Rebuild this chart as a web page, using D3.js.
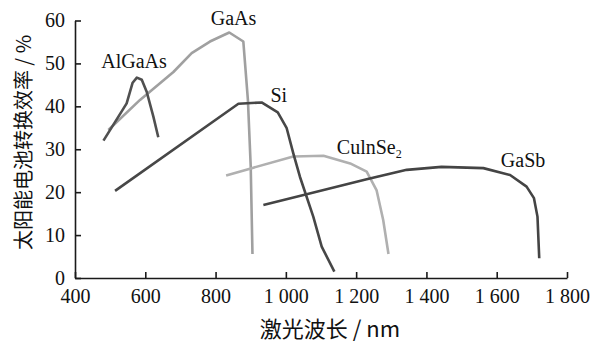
<!DOCTYPE html>
<html>
<head>
<meta charset="utf-8">
<script src="https://cdn.jsdelivr.net/npm/d3@7"></script>
<style>
  body { margin: 0; background: #fff; }
  text { font-family: "Liberation Serif", "Times New Roman", serif; fill: #111; }
  .cjk { font-family: "Noto Sans CJK SC", sans-serif; }
</style>
</head>
<body>
<div id="chart"></div>
<script>
// data: [wavelength nm, efficiency %]
var algaas = [[481,32],[547,40.7],[564,45.5],[576,46.7],[590,46.2],[604,43.4],[623,37.6],[637,32.8]];
var gaas = [[495,34.5],[585,41.5],[680,48],[732,52.4],[784,55.1],[839,57.2],[879,55.1],[892,41.5],[900,26],[905,5.6]];
var si = [[514,20.3],[865,40.6],[931,40.9],[977,38.6],[1002,35],[1021,29.1],[1040,23.6],[1078,14.3],[1102,7.3],[1138,1.5]];
var cuinse2 = [[830,23.9],[903,25.6],[1021,28.3],[1107,28.5],[1183,26.7],[1230,24.8],[1258,20.5],[1277,13.5],[1292,5.6]];
var gasb = [[936,17],[1059,19.5],[1230,23],[1344,25.2],[1443,25.9],[1562,25.6],[1638,24],[1685,21.3],[1706,18.6],[1716,14.3],[1721,4.6]];

var xTicks = [400, 600, 800, 1000, 1200, 1400, 1600, 1800];
var yTicks = [0, 10, 20, 30, 40, 50, 60];

// set the dimensions and margins of the graph
var margin = {top: 20.5, right: 23, bottom: 68, left: 75},
    width = 590 - margin.left - margin.right,
    height = 346 - margin.top - margin.bottom;

var svg = d3.select("#chart")
  .append("svg")
    .attr("width", width + margin.left + margin.right)
    .attr("height", height + margin.top + margin.bottom)
  .append("g")
    .attr("transform", "translate(" + margin.left + "," + margin.top + ")");

var xScale = d3.scaleLinear().domain([400, 1800]).range([0, width]);
var yScale = d3.scaleLinear().domain([0, 60]).range([height, 0]);

var line = d3.line()
    .x(d => xScale(d[0]))
    .y(d => yScale(d[1]));

var series = [
    {data: gaas, color: "#a0a0a0"},
    {data: cuinse2, color: "#b0b0b0"},
    {data: algaas, color: "#505050"},
    {data: si, color: "#474747"},
    {data: gasb, color: "#444444"}
];

svg.selectAll("path.curve")
    .data(series)
    .enter()
    .append("path")
    .attr("class", "curve")
    .attr("d", d => line(d.data))
    .style("fill", "none")
    .style("stroke", d => d.color)
    .style("stroke-width", 2.6)
    .style("stroke-linejoin", "round");

// axes
var fmt = d => d >= 1000 ? String(d).replace(/(\d)(\d{3})$/, "$1 $2") : String(d);

var xAxis = svg.append("g")
    .attr("transform", "translate(0," + height + ")")
    .call(d3.axisBottom(xScale).tickValues(xTicks).tickFormat(fmt).tickSizeInner(-6).tickSizeOuter(0));
xAxis.selectAll("text")
    .attr("y", 25)
    .attr("dy", 0)
    .style("font-size", "20px");

var yAxis = svg.append("g")
    .call(d3.axisLeft(yScale).tickValues(yTicks).tickSizeInner(-6).tickSizeOuter(0));
yAxis.selectAll("text")
    .attr("x", -10)
    .style("font-size", "20px");

svg.selectAll(".domain, .tick line")
    .style("stroke", "#1a1a1a")
    .style("stroke-width", 1.6);

// curve labels
var labels = [
    {t: "AlGaAs", x: 568, y: 48.9},
    {t: "GaAs", x: 851, y: 59},
    {t: "Si", x: 980, y: 41.1},
    {t: "GaSb", x: 1675, y: 25.9}
];
svg.selectAll("text.lab")
    .data(labels)
    .enter()
    .append("text")
    .attr("class", "lab")
    .attr("x", d => xScale(d.x))
    .attr("y", d => yScale(d.y))
    .attr("text-anchor", "middle")
    .style("font-size", "20px")
    .text(d => d.t);

var cu = svg.append("text")
    .attr("x", xScale(1145))
    .attr("y", yScale(28.9))
    .style("font-size", "20px");
cu.append("tspan").text("CulnSe");
cu.append("tspan").attr("dy", 4).style("font-size", "12px").text("2");

// axis titles
svg.append("text")
    .attr("class", "cjk")
    .attr("x", width / 2 + 9)
    .attr("y", height + 59)
    .attr("text-anchor", "middle")
    .style("font-size", "22px")
    .text("激光波长 / nm");

svg.append("text")
    .attr("class", "cjk")
    .attr("transform", "translate(" + (-44) + "," + (142.5 - margin.top) + ") rotate(-90)")
    .attr("text-anchor", "middle")
    .style("font-size", "20px")
    .text("太阳能电池转换效率 / %");
</script>
</body>
</html>
